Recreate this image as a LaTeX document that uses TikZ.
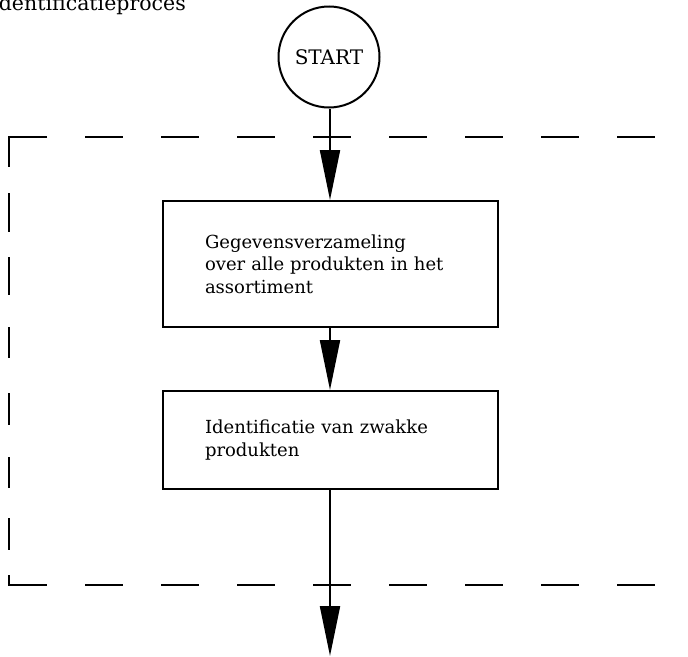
\documentclass[tikz,border=0pt]{standalone}
\usepackage{fontspec}
\setmainfont{DejaVu Serif}
\usetikzlibrary{arrows.meta}
\begin{document}
\begin{tikzpicture}[x=1pt,y=-1pt,
  lw/.style={line width=2pt},
  txt/.style={font=\fontsize{18}{22.5}\selectfont},
  box/.style={draw,lw,txt,minimum width=335pt,text width=250pt,align=left,inner xsep=42.5pt,inner ysep=0pt},
  flow/.style={lw,-{Triangle[length=50pt,width=20pt]}},
  frame/.style={line width=2pt}]
\useasboundingbox (0,0) rectangle (688,656);
% title (partly cut off at the top, as in the reference)
\node[font=\fontsize{20.5}{24}\selectfont,anchor=base east,inner sep=0pt] (title) at (186,10) {Identificatieproces};
% start
\node[circle,draw,lw,font=\fontsize{20}{24}\selectfont,minimum size=101pt,inner sep=0pt] (start) at (329,57) {START};
% boxes
\node[box,minimum height=126pt] (b1) at (330,264) {Gegevensverzameling\\over alle produkten in het\\assortiment};
\node[box,minimum height=98pt] (b2) at (330,440) {Identificatie van zwakke\\produkten};
\coordinate (end) at (330,656);
% connectors
\draw[flow] (start.south -| b1.north) -- (b1);
\draw[flow] (b1) -- (b2);
\draw[flow] (b2) -- (end);
% dashed frame
\draw[frame] (47,137) -- (9,137) -- (9,167);
\draw[frame] (9,575) -- (9,585) -- (47,585);
\draw[frame,dash pattern=on 38pt off 38pt] (85,137) -- (688,137);
\draw[frame,dash pattern=on 38pt off 38pt] (85,585) -- (688,585);
\foreach \a/\b in {193/232,257/295,327/358,393/425,457/488,518/550}
  \draw[frame] (9,\a) -- (9,\b);
\end{tikzpicture}
\end{document}
